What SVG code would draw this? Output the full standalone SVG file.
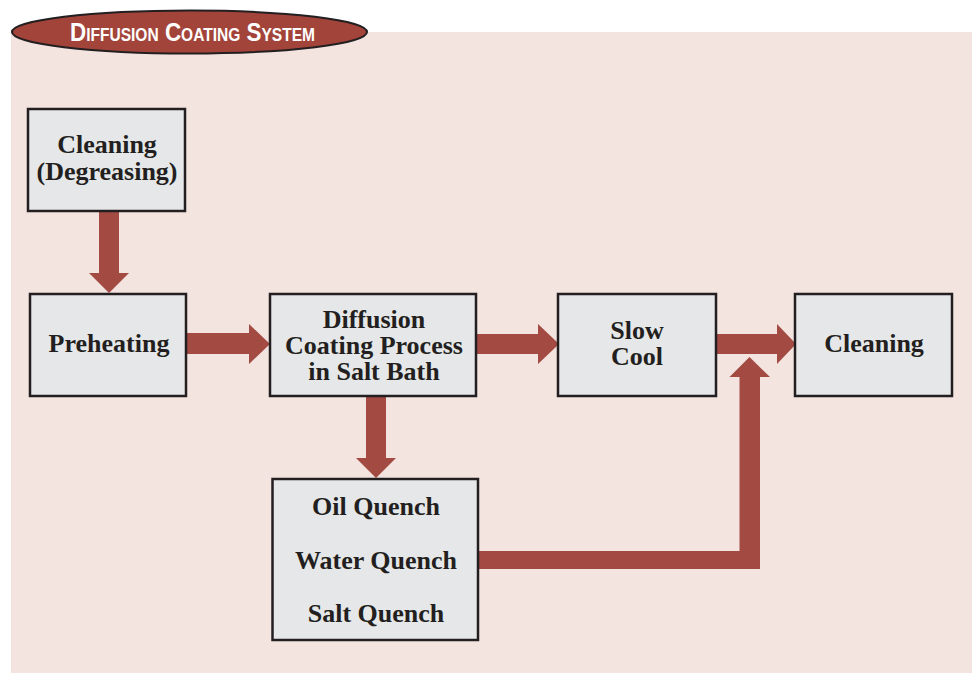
<svg xmlns="http://www.w3.org/2000/svg" width="972" height="675" viewBox="0 0 972 675">
<style>
.box{fill:#e6e7e8;stroke:#231f20;stroke-width:2.5}
.lbl{font-family:"Liberation Serif","Times New Roman",serif;font-weight:bold;font-size:26px;fill:#231f20;text-anchor:middle}
.arr{fill:#a34a42}
.ttl{font-family:"Liberation Sans",Arial,sans-serif;font-weight:bold;fill:#ffffff;font-size:26px;font-variant:small-caps}
</style>
<rect x="0" y="0" width="972" height="675" fill="#ffffff"/>
<rect x="11" y="32" width="961" height="641" fill="#f3e4e0"/>
<g id="title">
<ellipse cx="189.5" cy="32" rx="177.5" ry="21.5" fill="#a3443b" stroke="#231f20" stroke-width="2"/>
<text class="ttl" x="70" y="41" textLength="245" lengthAdjust="spacingAndGlyphs">Diffusion Coating System</text>
</g>
<g id="connectors">
<path class="arr" d="M99,211 H119 V273 H129 L109,293 L89,273 H99 Z"/>
<path class="arr" d="M187,333 H249 V324 L270,344 L249,364 V354 H187 Z"/>
<path class="arr" d="M477,334 H538 V324 L559,344 L538,364 V354 H477 Z"/>
<path class="arr" d="M716,334 H777 V324 L796,344 L777,364 V354 H716 Z"/>
<path class="arr" d="M366,397 H386 V458 H396 L376,478 L356,458 H366 Z"/>
<path class="arr" d="M478,551 H739.5 V377 H729.5 L749.5,357 L770,377 H760 V569 H478 Z"/>
</g>
<g id="cleaning1">
<rect class="box" x="28" y="109" width="157" height="102"/>
<text class="lbl" x="107" y="153">Cleaning</text>
<text class="lbl" x="107" y="180">(Degreasing)</text>
</g>
<g id="preheating">
<rect class="box" x="30" y="294" width="156" height="102"/>
<text class="lbl" x="109" y="352">Preheating</text>
</g>
<g id="diffusion">
<rect class="box" x="270" y="294" width="206" height="102"/>
<text class="lbl" x="374" y="328">Diffusion</text>
<text class="lbl" x="374" y="354">Coating Process</text>
<text class="lbl" x="374" y="380">in Salt Bath</text>
</g>
<g id="slowcool">
<rect class="box" x="558" y="294" width="158" height="102"/>
<text class="lbl" x="637" y="339">Slow</text>
<text class="lbl" x="637" y="365">Cool</text>
</g>
<g id="cleaning2">
<rect class="box" x="795" y="294" width="157" height="102"/>
<text class="lbl" x="874" y="352">Cleaning</text>
</g>
<g id="quench">
<rect class="box" x="272.5" y="479" width="205.5" height="161"/>
<text class="lbl" x="376" y="515">Oil Quench</text>
<text class="lbl" x="376" y="569">Water Quench</text>
<text class="lbl" x="376" y="622">Salt Quench</text>
</g>
</svg>
